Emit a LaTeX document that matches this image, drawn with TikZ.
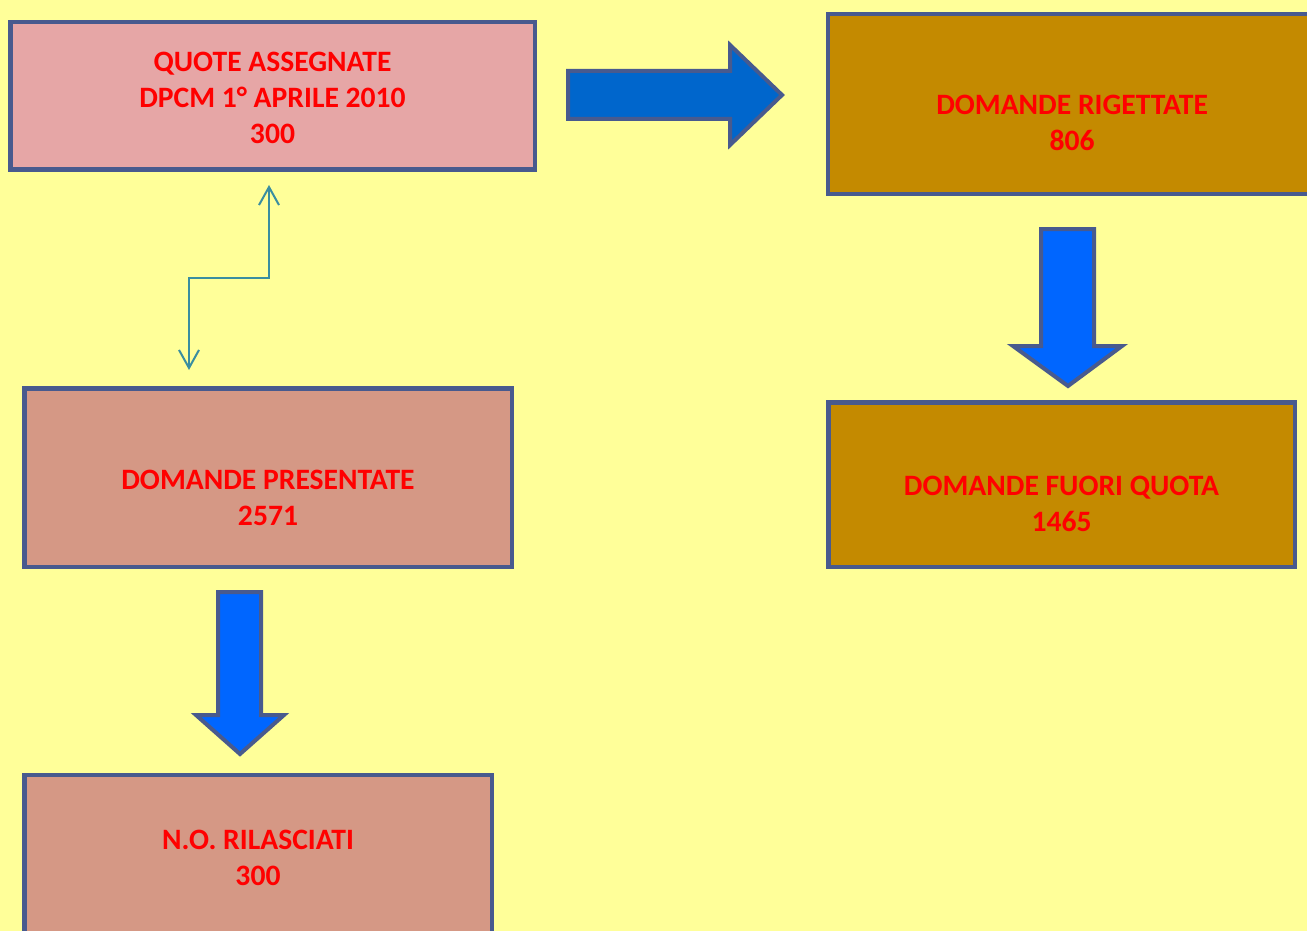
\documentclass[tikz,border=0pt]{standalone}
\usepackage{fontspec}
\setmainfont{Carlito}
\usetikzlibrary{arrows.meta}
\definecolor{bg}{RGB}{255,255,153}
\definecolor{bord}{RGB}{72,90,142}
\definecolor{pinkbox}{RGB}{230,166,166}
\definecolor{rosebox}{RGB}{213,152,133}
\definecolor{goldbox}{RGB}{196,138,0}
\definecolor{bluea}{RGB}{0,102,204}
\definecolor{blueb}{RGB}{0,102,255}
\definecolor{teal2}{RGB}{58,142,160}
\definecolor{txtred}{RGB}{255,0,0}
\tikzset{
  box/.style={draw=bord, line width=4.5pt, rectangle, inner sep=0pt, outer sep=0pt},
  lbl/.style={align=center, text=txtred, inner sep=0pt, font=\fontsize{29.6}{36}\selectfont\bfseries},
  blockarrow/.style={draw=bord, line width=4pt, line join=miter},
  conn/.style={draw=teal2, line width=2pt, {Straight Barb[length=18pt,width=20pt]}-{Straight Barb[length=18pt,width=20pt]}}
}
\begin{document}
\begin{tikzpicture}[x=1pt,y=-1pt]
\clip (0,0) rectangle (1307,931);
\fill[bg] (0,0) rectangle (1307,931);
\node[box, fill=pinkbox, minimum width=524.5pt, minimum height=147.5pt] (q) at (272.5,96) {};
\node[lbl] (qt) at ([yshift=-2pt]q.center) {QUOTE ASSEGNATE\\DPCM 1° APRILE 2010\\300};
\node[box, fill=goldbox, minimum width=487.75pt, minimum height=179.5pt] (r) at (1072.1,104) {};
\node[lbl] (rt) at ([yshift=-19pt]r.center) {DOMANDE RIGETTATE\\806};
\node[box, fill=rosebox, minimum width=487.5pt, minimum height=178.5pt] (p) at (268,477.5) {};
\node[lbl] (pt) at ([yshift=-20pt]p.center) {DOMANDE PRESENTATE\\2571};
\node[box, fill=goldbox, minimum width=466.5pt, minimum height=164.5pt] (f) at (1061.5,484.5) {};
\node[lbl] (ft) at ([yshift=-19pt]f.center) {DOMANDE FUORI QUOTA\\1465};
\node[box, fill=rosebox, minimum width=467.5pt, minimum height=164pt] (n) at (258,857) {};
\node[lbl] (nt) at ([yshift=-1pt]n.center) {N.O. RILASCIATI\\300};
% block arrows
\filldraw[blockarrow, fill=bluea] (568,71) -- (730,71) -- (730,45) -- (782,95) -- (730,145) -- (730,119) -- (568,119) -- cycle;
\filldraw[blockarrow, fill=blueb] (1041,229) -- (1094,229) -- (1094,346) -- (1122,346) -- (1068,386) -- (1013,346) -- (1041,346) -- cycle;
\filldraw[blockarrow, fill=blueb] (218,592) -- (261,592) -- (261,715) -- (284,715) -- (240,754) -- (196,715) -- (218,715) -- cycle;
% connector
\coordinate (ca) at (269,185);
\coordinate (cb) at (189,370);
\draw[conn] (cb) -- (189,278) -| (ca);
\end{tikzpicture}
\end{document}
